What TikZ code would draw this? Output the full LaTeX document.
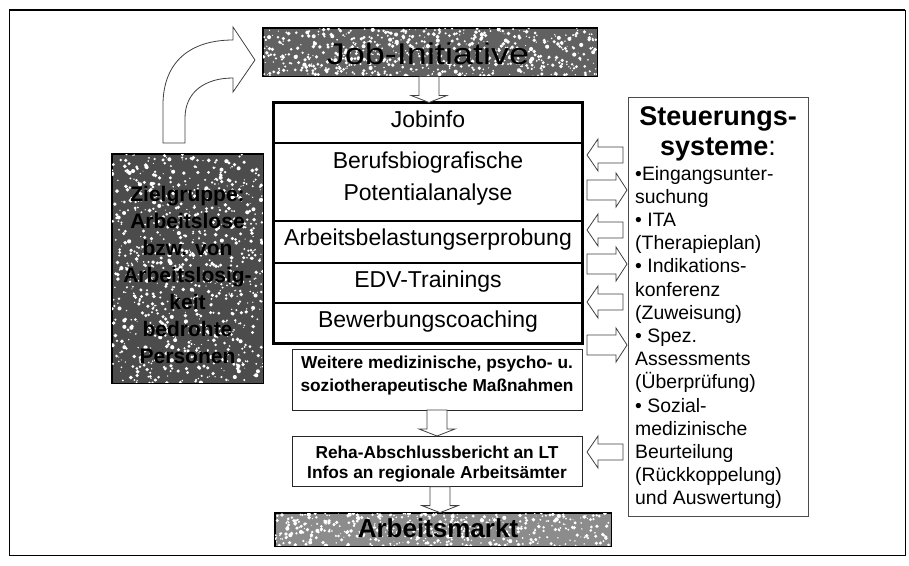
\documentclass[tikz,border=0pt]{standalone}
\usepackage{fontspec}
\setmainfont{Liberation Sans}
\usetikzlibrary{calc}
\newcommand\specks[5]{%
  \foreach \k in {1,...,#5}{%
    \pgfmathsetmacro\px{#1+rnd*(#3-#1)}%
    \pgfmathsetmacro\py{#2+rnd*(#4-#2)}%
    \pgfmathsetmacro\pr{0.5+rnd*1.6}%
    \pgfmathsetmacro\pg{rnd*60}%
    \fill[white!\pg!black!0] (\px,\py) circle[radius=\pr];
  }}
\begin{document}
\begin{tikzpicture}[x=1pt,y=-1pt,
  sec/.style={draw=black, line width=1.2pt, minimum width=308pt, inner sep=0pt},
  thinbox/.style={draw=black!85, line width=0.9pt, inner sep=0pt},
  main/.style={inner sep=0pt, anchor=base, font=\fontsize{23}{27}\selectfont},
  bld/.style={inner sep=0pt, anchor=base, font=\fontsize{17.3}{23}\selectfont\bfseries},
  lst/.style={inner sep=0pt, anchor=base west, font=\fontsize{19.4}{23}\selectfont},
  zl/.style={inner sep=0pt, anchor=base, font=\fontsize{21}{27}\selectfont\bfseries},
  blk/.style={draw=black!75, fill=white, line width=0.8pt, line join=miter},
  larrow/.pic={\draw[blk] (-18,0) -- (-7,-16) -- (-7,-8) -- (18,-8) -- (18,8) -- (-7,8) -- (-7,16) -- cycle;},
  rarrow/.pic={\draw[blk] (20,0) -- (9,-17) -- (9,-10) -- (-20,-10) -- (-20,10) -- (9,10) -- (9,17) -- cycle;},
  darrow/.pic={\draw[blk] (0,13) -- (-18,6) -- (-10,6) -- (-10,-13) -- (10,-13) -- (10,6) -- (18,6) -- cycle;}
]
\useasboundingbox (0,0) rectangle (909,565);
\pgfmathsetseed{7}
% outer frame
\draw[line width=1pt] (9,10) rectangle (905,555);
\draw[line width=2pt] (9,10) -- (905,10);

% ---------- Job-Initiative (textured)
\node[draw=black, line width=1pt, fill=black!62, minimum width=334pt, minimum height=48pt, inner sep=0pt] (job) at (430,52) {};
\begin{scope}
  \clip (263,28) rectangle (597,76);
  \specks{263}{28}{597}{76}{650}
\end{scope}
\draw[line width=1pt] (job.north west) rectangle (job.south east);
\node[inner sep=0pt, anchor=base, font=\fontsize{30}{34}\selectfont] (jobt) at (428,64) {\scalebox{1.2}[1]{Job-Initiative}};

% ---------- main column
\node[sec, minimum height=40pt] (s1) at (428,123) {};
\node[sec, minimum height=78pt] (s2) at (428,182) {};
\node[sec, minimum height=42pt] (s3) at (428,242) {};
\node[sec, minimum height=40pt] (s4) at (428,283) {};
\node[sec, minimum height=40pt] (s5) at (428,323) {};
\draw[line width=2pt] (s1.north west) rectangle (s5.south east);
\node[main] (t1) at (428,127) {Jobinfo};
\node[main] (t2a) at (428,168) {Berufsbiografische};
\node[main] (t2b) at (428,200) {Potentialanalyse};
\node[main] (t3) at (428,245) {Arbeitsbelastungserprobung};
\node[main] (t4) at (428,287) {EDV-Trainings};
\node[main] (t5) at (428,327) {Bewerbungscoaching};

% ---------- further boxes
\node[thinbox, minimum width=290pt, minimum height=61pt] (weit) at (437,379.5) {};
\node[bld] (w1) at (437,368) {Weitere medizinische, psycho- u.};
\node[bld] (w2) at (437,391) {soziotherapeutische Ma\ss nahmen};
\node[thinbox, minimum width=290pt, minimum height=50pt] (reha) at (437,461) {};
\node[bld] (r1) at (437,458) {Reha-Abschlussbericht an LT};
\node[bld] (r2) at (437,478) {Infos an regionale Arbeits\"amter};

% ---------- Arbeitsmarkt (textured)
\node[draw=black, fill=black!45, minimum width=336pt, minimum height=33pt, inner sep=0pt] (markt) at (443,529.5) {};
\begin{scope}
  \clip (275,513) rectangle (611,546);
  \specks{275}{513}{611}{546}{480}
\end{scope}
\draw[line width=1pt] (markt.north west) rectangle (markt.south east);
\node[inner sep=0pt, anchor=base, font=\fontsize{26}{30}\selectfont\bfseries] (markt t) at (438,537) {Arbeitsmarkt};

% ---------- Zielgruppe (textured)
\node[draw=black, fill=black!70, minimum width=151pt, minimum height=229pt, inner sep=0pt] (ziel) at (187.5,268.5) {};
\begin{scope}
  \clip (112,154) rectangle (263,383);
  \specks{112}{154}{263}{383}{900}
\end{scope}
\draw[line width=1pt] (ziel.north west) rectangle (ziel.south east);
\node[zl] (z1) at (187.5,201) {Zielgruppe:};
\node[zl] (z2) at (187.5,228) {Arbeitslose};
\node[zl] (z3) at (187.5,255) {bzw. von};
\node[zl] (z4) at (187.5,282) {Arbeitslosig-};
\node[zl] (z5) at (187.5,309) {keit};
\node[zl] (z6) at (187.5,336) {bedrohte};
\node[zl] (z7) at (187.5,363) {Personen};

% ---------- Steuerungssysteme
\node[draw=black!70, line width=0.8pt, minimum width=180pt, minimum height=419pt, inner sep=0pt] (steu) at (718,306.5) {};
\node[inner sep=0pt, anchor=base, font=\fontsize{27}{30}\selectfont\bfseries] (h1) at (718,125) {Steuerungs-};
\node[inner sep=0pt, anchor=base, font=\fontsize{27}{30}\selectfont] (h2) at (718,155) {\textbf{systeme}:};
\foreach \txt [count=\i] in {{\textbullet Eingangsunter-},{suchung},{\textbullet{} ITA},{(Therapieplan)},{\textbullet{} Indikations-},{konferenz},{(Zuweisung)},{\textbullet{} Spez.},{Assessments},{(\"Uberpr\"ufung)},{\textbullet{} Sozial-},{medizinische},{Beurteilung},{(R\"uckkoppelung)},{und Auswertung)}}{
  \node[lst] (st\i) at (635,{180+23.2*(\i-1)}) {\txt};
}

% ---------- block arrows
\pic at ($(job.south)!0.5!(s1.north)$) {darrow};
\pic at ($(weit.south)!0.5!(reha.north)$) {darrow};
\pic at ($(reha.south)!0.5!(markt.north)$) {darrow};
\foreach \yy in {155,230,302,452} { \pic at (605,\yy) {larrow}; }
\foreach \yy in {190,264,345} { \pic at (607,\yy) {rarrow}; }

% ---------- curved arrow from Zielgruppe to Job-Initiative
\draw[blk] (163,143) -- (163,105) .. controls (163,62) and (190,40) .. (233,40)
  -- (233,27) -- (255,60) -- (233,92) -- (233,78)
  .. controls (205,78) and (185,92) .. (185,118) -- (185,143) -- cycle;
\end{tikzpicture}
\end{document}
